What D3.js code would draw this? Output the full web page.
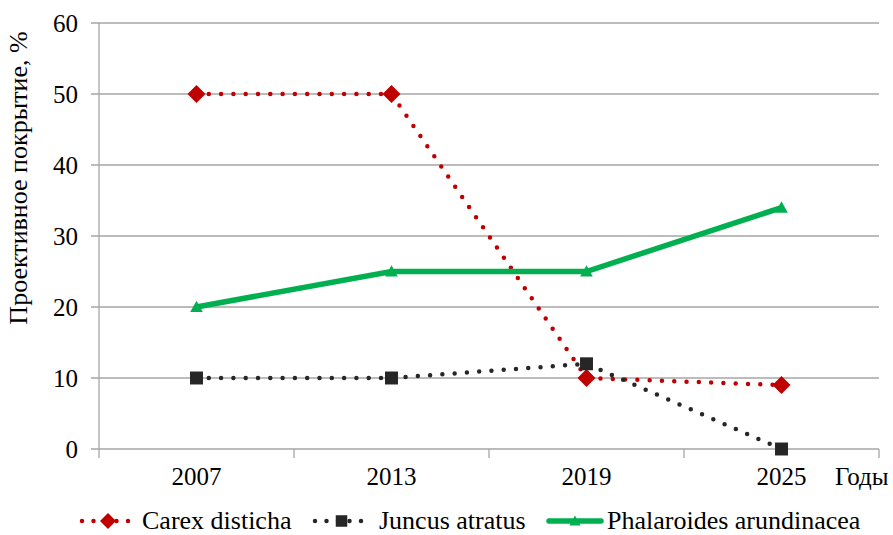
<!DOCTYPE html>
<html>
<head>
<meta charset="utf-8">
<script src="https://cdn.jsdelivr.net/npm/d3@7"></script>
<style>
  body { margin: 0; background: #fff; }
  text { font-family: "Liberation Serif", "Times New Roman", serif; fill: #000; }
</style>
</head>
<body>
<div id="chart"></div>
<script>
// data
var years = ["2007", "2013", "2019", "2025"];
var carex = [50, 50, 10, 9];
var juncus = [10, 10, 12, 0];
var phalaroides = [20, 25, 25, 34];
var yTicks = [0, 10, 20, 30, 40, 50, 60];

var series = [
  {name: "Carex disticha", values: carex, color: "#c00000", dotted: true, marker: "diamond"},
  {name: "Juncus atratus", values: juncus, color: "#262626", dotted: true, marker: "square"},
  {name: "Phalaroides arundinacea", values: phalaroides, color: "#00b050", dotted: false, marker: "triangle"}
];

var W = 893, H = 535;
var margin = {top: 23, right: 14, bottom: 86, left: 99},
    width = W - margin.left - margin.right,
    height = H - margin.top - margin.bottom;

var svg = d3.select("#chart")
  .append("svg")
    .attr("width", W)
    .attr("height", H);

var g = svg.append("g")
    .attr("transform", "translate(" + margin.left + "," + margin.top + ")");

var x = d3.scaleBand()
  .domain(years)
  .range([0, width]);

var y = d3.scaleLinear()
  .domain([0, 60])
  .range([height, 0]);

// gridlines
g.selectAll(".grid")
  .data(yTicks)
  .enter()
  .append("line")
    .attr("x1", -8)
    .attr("x2", width)
    .attr("y1", function(d) { return y(d); })
    .attr("y2", function(d) { return y(d); })
    .attr("stroke", "#a6a6a6")
    .attr("stroke-width", 1.3);

// y axis line
g.append("line")
  .attr("x1", 0).attr("x2", 0)
  .attr("y1", 0).attr("y2", height + 9)
  .attr("stroke", "#a6a6a6")
  .attr("stroke-width", 1.3);

// x tick marks at band boundaries
var bounds = years.map(function(d) { return x(d); }).concat([width]);
g.selectAll(".xtick")
  .data(bounds.slice(1))
  .enter()
  .append("line")
    .attr("x1", function(d) { return d; })
    .attr("x2", function(d) { return d; })
    .attr("y1", height)
    .attr("y2", height + 9)
    .attr("stroke", "#a6a6a6")
    .attr("stroke-width", 1.3);

// y tick labels
g.selectAll(".ylab")
  .data(yTicks)
  .enter()
  .append("text")
    .attr("x", -21)
    .attr("y", function(d) { return y(d); })
    .attr("dy", "0.34em")
    .attr("text-anchor", "end")
    .style("font-size", "25px")
    .text(function(d) { return d; });

// x tick labels
g.selectAll(".xlab")
  .data(years)
  .enter()
  .append("text")
    .attr("x", function(d) { return x(d) + x.bandwidth() / 2; })
    .attr("y", height + 36)
    .attr("text-anchor", "middle")
    .style("font-size", "25px")
    .text(function(d) { return d; });

g.append("text")
  .attr("x", width - 44)
  .attr("y", height + 36)
  .style("font-size", "25px")
  .text("Годы");

// y axis title
svg.append("text")
  .attr("transform", "translate(27,178) rotate(-90)")
  .attr("text-anchor", "middle")
  .style("font-size", "26px")
  .text("Проективное покрытие, %");

var line = d3.line()
  .x(function(d, i) { return x(years[i]) + x.bandwidth() / 2; })
  .y(function(d) { return y(d); });

function drawMarker(sel, type, color, cx, cy, r) {
  if (type === "diamond") {
    sel.append("path")
      .attr("d", "M" + cx + "," + (cy - r) + "L" + (cx + r) + "," + cy + "L" + cx + "," + (cy + r) + "L" + (cx - r) + "," + cy + "Z")
      .attr("fill", color);
  } else if (type === "square") {
    var s = r * 0.72;
    sel.append("rect")
      .attr("x", cx - s).attr("y", cy - s)
      .attr("width", 2 * s).attr("height", 2 * s)
      .attr("fill", color);
  } else {
    var t = r * 0.7;
    sel.append("path")
      .attr("d", "M" + cx + "," + (cy - t) + "L" + (cx + t) + "," + (cy + t * 0.8) + "L" + (cx - t) + "," + (cy + t * 0.8) + "Z")
      .attr("fill", color);
  }
}

series.forEach(function(s) {
  g.append("path")
    .datum(s.values)
    .attr("d", line)
    .attr("fill", "none")
    .attr("stroke", s.color)
    .attr("stroke-width", s.dotted ? 4.5 : 5.5)
    .attr("stroke-linecap", s.dotted ? "round" : "butt")
    .attr("stroke-dasharray", s.dotted ? "0 12.3" : null);
  s.values.forEach(function(v, i) {
    drawMarker(g, s.marker, s.color, x(years[i]) + x.bandwidth() / 2, y(v), 9);
  });
});

// legend
var legendItems = [
  {x0: 82, x1: 134, tx: 142},
  {x0: 315, x1: 368, tx: 379},
  {x0: 549, x1: 601, tx: 607}
];
series.forEach(function(s, i) {
  var li = legendItems[i];
  var lg = svg.append("g");
  var ly = 521;
  if (s.dotted) {
    lg.append("line")
      .attr("x1", li.x0).attr("x2", li.x1)
      .attr("y1", ly).attr("y2", ly)
      .attr("stroke", s.color)
      .attr("stroke-width", 4.5)
      .attr("stroke-linecap", "round")
      .attr("stroke-dasharray", "0 11.5");
  } else {
    lg.append("line")
      .attr("x1", li.x0).attr("x2", li.x1)
      .attr("y1", ly).attr("y2", ly)
      .attr("stroke", s.color)
      .attr("stroke-width", 5.5)
      .attr("stroke-linecap", "round");
  }
  drawMarker(lg, s.marker, s.color, (li.x0 + li.x1) / 2, ly, 8);
  lg.append("text")
    .attr("x", li.tx)
    .attr("y", 529)
    .style("font-size", "26px")
    .text(s.name);
});
</script>
</body>
</html>
